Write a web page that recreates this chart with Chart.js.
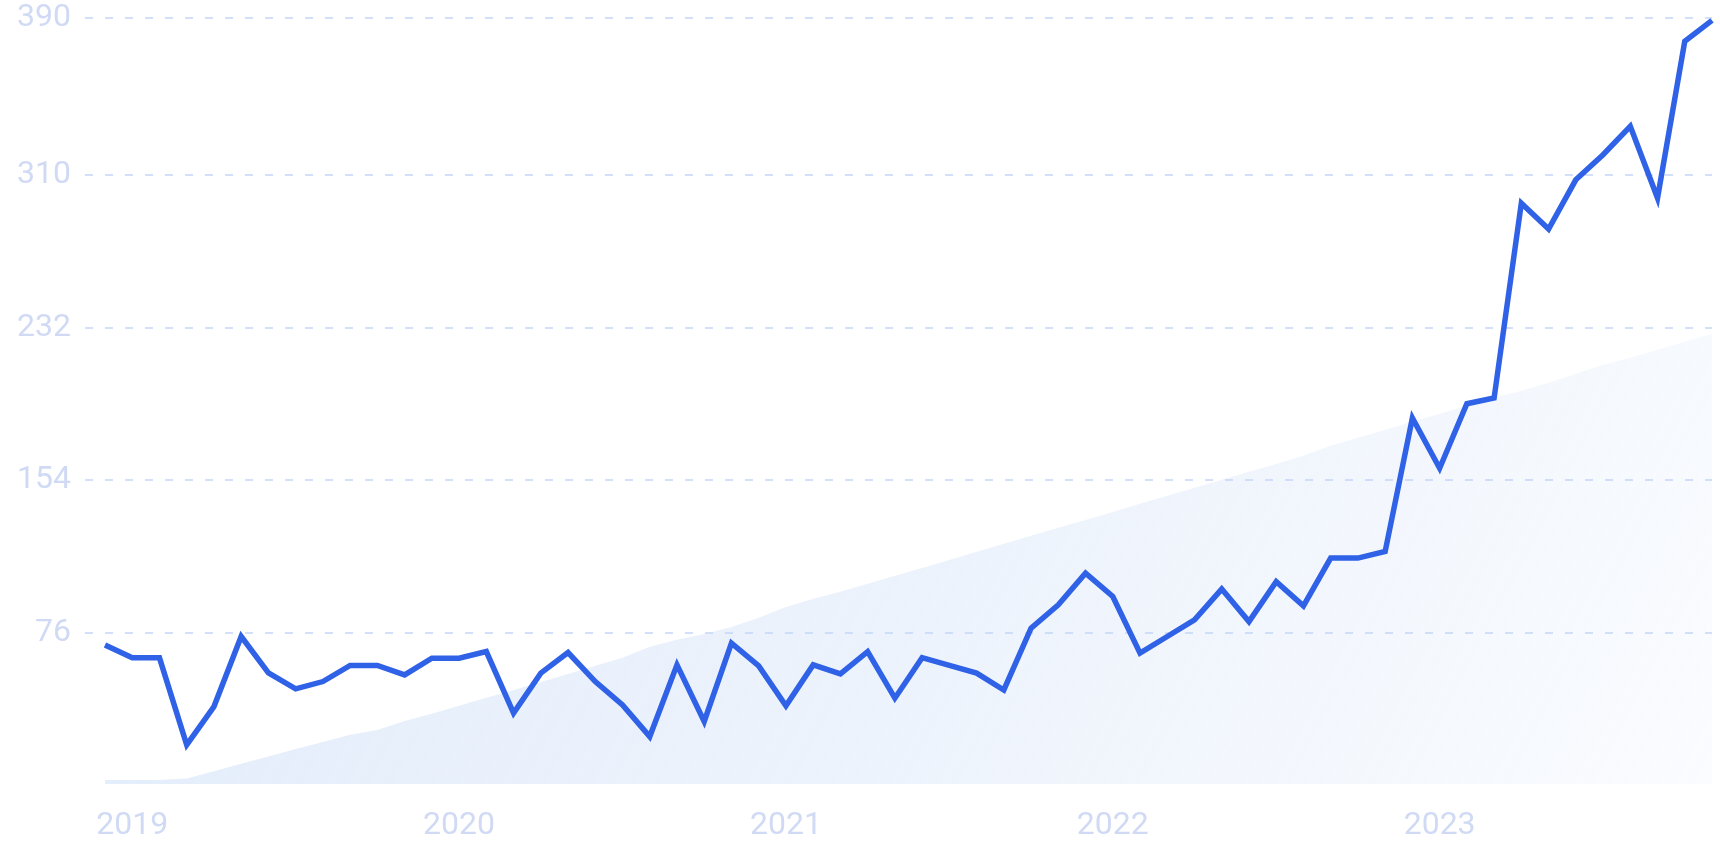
<!DOCTYPE html>
<html>
<head>
<meta charset="utf-8">
<script src="https://cdn.jsdelivr.net/npm/chart.js@4/dist/chart.umd.min.js"></script>
<style>
  html, body { margin: 0; padding: 0; background: #ffffff; }
  #wrap { width: 1720px; height: 860px; position: relative; }
</style>
</head>
<body>
<div id="wrap"><canvas id="c" width="1720" height="860"></canvas></div>
<script>
// Monthly categories (Dec 2018 – Nov 2023)
const months = [
  "2018-12",
  "2019-01","2019-02","2019-03","2019-04","2019-05","2019-06","2019-07","2019-08","2019-09","2019-10","2019-11","2019-12",
  "2020-01","2020-02","2020-03","2020-04","2020-05","2020-06","2020-07","2020-08","2020-09","2020-10","2020-11","2020-12",
  "2021-01","2021-02","2021-03","2021-04","2021-05","2021-06","2021-07","2021-08","2021-09","2021-10","2021-11","2021-12",
  "2022-01","2022-02","2022-03","2022-04","2022-05","2022-06","2022-07","2022-08","2022-09","2022-10","2022-11","2022-12",
  "2023-01","2023-02","2023-03","2023-04","2023-05","2023-06","2023-07","2023-08","2023-09","2023-10","2023-11"
];

// Main series (search interest)
const interest = [
  70.0, 63.4, 63.4, 19.0, 38.5, 74.3, 55.7, 47.6, 51.3, 59.5, 59.5, 54.7,
  63.2, 63.2, 66.6, 35.2, 55.6, 66.1, 51.3, 39.4, 23.2, 59.8, 30.9, 70.9,
  59.3, 38.9, 59.8, 55.2, 66.6, 42.8, 63.5, 59.5, 55.6, 47.0, 78.6, 90.5,
  106.6, 94.7, 65.8, 74.3, 82.8, 98.5, 81.9, 102.3, 89.9, 114.3, 114.3, 117.7,
  185.8, 160.2, 193.1, 196.0, 295.5, 282.3, 307.4, 320.2, 334.7, 298.1, 378.1, 388.8
];

// Background trend area
const trend = [
  1, 1, 1, 1.8, 5.5, 9.3, 13.0, 16.9, 20.5, 24.1, 26.6, 31.2,
  34.8, 38.9, 43.0, 47.0, 51.1, 55.2, 59.3, 63.4, 69.0, 72.6, 75.6, 79.2,
  83.8, 89.4, 93.5, 97.1, 101.2, 105.3, 109.3, 113.4, 117.5, 121.6, 125.7, 129.8,
  133.8, 137.9, 142.0, 146.1, 150.2, 154.3, 158.4, 162.4, 166.5, 171.6, 175.7, 179.8,
  183.9, 188.0, 192.1, 196.1, 199.7, 203.8, 208.4, 213.0, 216.6, 220.6, 224.7, 228.8
];

// Y tick values
const yTicks = [76, 154, 232, 310, 390];
const yMin = -1;
const yMax = 390;

function areaGradient(ctx) {
  const chart = ctx.chart;
  const a = chart.chartArea;
  if (!a) return 'rgba(190,212,245,0.3)';
  const g = chart.ctx.createLinearGradient(a.left, a.top + (a.bottom - a.top) * 0.3, a.right, a.bottom + 300);
  g.addColorStop(0, 'rgba(190,212,245,0.46)');
  g.addColorStop(0.5, 'rgba(190,212,245,0.28)');
  g.addColorStop(1, 'rgba(190,212,245,0.04)');
  return g;
}

const tickFont = { family: "Roboto, 'DejaVu Sans', sans-serif", size: 32, weight: '400' };
const tickColor = '#d0daf4';
const gridColor = '#d4e0fa';

new Chart(document.getElementById('c'), {
  type: 'line',
  data: {
    labels: months,
    datasets: [
      {
        label: 'Interest',
        data: interest,
        borderColor: '#2f62e6',
        borderWidth: 5.5,
        tension: 0,
        pointRadius: 0,
        borderJoinStyle: 'miter',
        borderCapStyle: 'butt',
        fill: false,
        order: 0
      },
      {
        label: 'Trend',
        data: trend,
        borderWidth: 0,
        borderColor: 'rgba(0,0,0,0)',
        backgroundColor: areaGradient,
        tension: 0,
        pointRadius: 0,
        fill: 'start',
        order: 1
      }
    ]
  },
  options: {
    responsive: false,
    animation: false,
    layout: { padding: { top: 0, right: 8, left: 0, bottom: 0 } },
    plugins: { legend: { display: false }, tooltip: { enabled: false } },
    scales: {
      x: {
        type: 'category',
        offset: false,
        grid: { display: false, drawTicks: false },
        border: { display: false },
        ticks: {
          autoSkip: false,
          maxRotation: 0,
          minRotation: 0,
          padding: 23,
          color: tickColor,
          font: tickFont,
          callback: function (value) {
            const l = this.getLabelForValue(value);
            return l.endsWith('-01') ? l.slice(0, 4) : '';
          }
        },
        afterFit: function (scale) {
          scale.height = 76;
          scale.paddingLeft = 0;
          scale.paddingRight = 0;
        }
      },
      y: {
        min: yMin,
        max: yMax,
        afterBuildTicks: function (scale) {
          scale.ticks = yTicks.map(v => ({ value: v }));
        },
        grid: {
          color: gridColor,
          lineWidth: 2,
          drawTicks: true,
          tickLength: 20,
          tickBorderDash: [8, 12],
          tickColor: gridColor
        },
        border: { display: false, dash: [8, 12] },
        ticks: {
          padding: 14,
          color: tickColor,
          font: tickFont,
          callback: v => String(v)
        },
        afterFit: function (scale) {
          scale.width = 105;
          scale.paddingTop = 18;
          scale.paddingBottom = 0;
        }
      }
    }
  }
});
</script>
</body>
</html>
